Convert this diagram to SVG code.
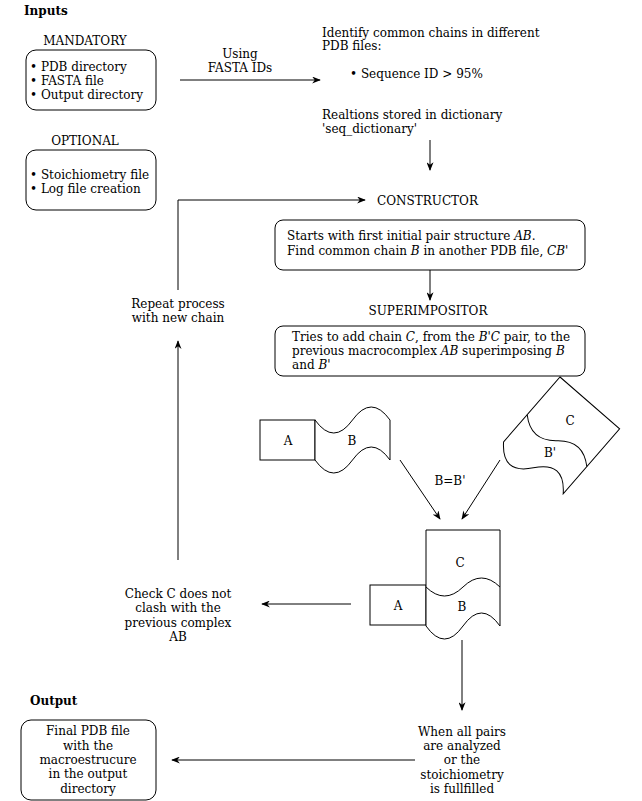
<svg xmlns="http://www.w3.org/2000/svg" width="642" height="801" viewBox="0 0 642 801">
<defs>
<style>
text{font-family:'DejaVu Serif',serif;font-size:12px;fill:#000}
.b{font-weight:bold}
.m{text-anchor:middle}
.box{fill:#fff;stroke:#000;stroke-width:1}
.ln{fill:none;stroke:#000;stroke-width:1}
.sh{fill:#fff;stroke:#000;stroke-width:1}
</style>
<marker id="ar" viewBox="0 0 10 8" refX="9" refY="4" markerWidth="9" markerHeight="7" markerUnits="userSpaceOnUse" orient="auto">
<path d="M0,0 L10,4 L0,8 L3,4 z" fill="#000"/>
</marker>
</defs>
<rect width="642" height="801" fill="#fff"/>

<g id="connectors">
<path class="ln" d="M180,80 L320,80" marker-end="url(#ar)"/>
<path class="ln" d="M430,140 L430,170" marker-end="url(#ar)"/>
<path class="ln" d="M178,290 L178,200 L365,200" marker-end="url(#ar)"/>
<path class="ln" d="M430,270 L430,300" marker-end="url(#ar)"/>
<path class="ln" d="M178,560 L178,341" marker-end="url(#ar)"/>
<path class="ln" d="M400,460 L440,519" marker-end="url(#ar)"/>
<path class="ln" d="M500,460 L462,519" marker-end="url(#ar)"/>
<path class="ln" d="M351,604 L262,604" marker-end="url(#ar)"/>
<path class="ln" d="M462,640 L462,710" marker-end="url(#ar)"/>
<path class="ln" d="M415,760 L172,760" marker-end="url(#ar)"/>
</g>

<g id="inputs-title"><text class="b" x="24" y="15">Inputs</text></g>

<g id="mandatory">
<text class="m" x="85" y="45">MANDATORY</text>
<rect class="box" x="26" y="50" width="130" height="60" rx="10"/>
<text x="30" y="71">• PDB directory</text>
<text x="30" y="85">• FASTA file</text>
<text x="30" y="99">• Output directory</text>
</g>

<g id="optional">
<text class="m" x="85" y="145">OPTIONAL</text>
<rect class="box" x="26" y="150" width="130" height="60" rx="10"/>
<text x="30" y="179">• Stoichiometry file</text>
<text x="30" y="193">• Log file creation</text>
</g>

<g id="using-label">
<text class="m" x="240" y="58">Using</text>
<text class="m" x="240" y="72">FASTA IDs</text>
</g>

<g id="identify">
<text x="322" y="37">Identify common chains in different</text>
<text x="322" y="50">PDB files:</text>
<text x="350" y="78">• Sequence ID &gt; 95%</text>
<text x="322" y="119">Realtions stored in dictionary</text>
<text x="322" y="133">'seq_dictionary'</text>
</g>

<g id="constructor">
<text x="377" y="205">CONSTRUCTOR</text>
<rect class="box" x="275" y="220" width="310" height="50" rx="8"/>
<text x="287" y="240">Starts with first initial pair structure <tspan font-style="italic">AB</tspan>.</text>
<text x="287" y="255">Find common chain <tspan font-style="italic">B</tspan> in another PDB file, <tspan font-style="italic">CB'</tspan></text>
</g>

<g id="superimpositor">
<text class="m" x="428" y="315">SUPERIMPOSITOR</text>
<rect class="box" x="275" y="326" width="310" height="50" rx="8"/>
<text x="292" y="341">Tries to add chain <tspan font-style="italic">C</tspan>, from the <tspan font-style="italic">B'C</tspan> pair, to the</text>
<text x="292" y="355">previous macrocomplex <tspan font-style="italic">AB</tspan> superimposing <tspan font-style="italic">B</tspan></text>
<text x="292" y="369">and <tspan font-style="italic">B'</tspan></text>
</g>

<g id="repeat">
<text class="m" x="178" y="308">Repeat process</text>
<text class="m" x="178" y="322">with new chain</text>
</g>

<g id="pair-AB">
<rect class="sh" x="260" y="420" width="55" height="40"/>
<path class="sh" d="M315,420 Q333.75,446 352.5,420 T390,420 L390,460 Q371.25,434 352.5,460 T315,460 Z"/>
<text class="m" x="288" y="445">A</text>
<text class="m" x="352" y="445">B</text>
</g>

<g id="pair-CB">
<g transform="translate(560,377) rotate(41)">
<path class="sh" d="M0,0 L79,0 L79,86 Q59.25,60 39.5,86 T0,86 Z"/>
<path class="ln" d="M0,50 Q19.75,68 39.5,50 T79,50"/>
</g>
<text class="m" x="570" y="425">C</text>
<text class="m" x="550" y="457">B'</text>
</g>

<g id="equal-label"><text class="m" x="450" y="485">B=B'</text></g>

<g id="complex-ABC">
<rect class="sh" x="370" y="585" width="56" height="40"/>
<path class="sh" d="M426,530 L500,530 L500,626 Q481.5,600 463,626 T426,626 Z"/>
<path class="ln" d="M426,587 Q444.5,605 463,587 T500,587"/>
<text class="m" x="460" y="567">C</text>
<text class="m" x="398" y="610">A</text>
<text class="m" x="462" y="611">B</text>
</g>

<g id="check">
<text class="m" x="178" y="598">Check C does not</text>
<text class="m" x="178" y="612">clash with the</text>
<text class="m" x="178" y="627">previous complex</text>
<text class="m" x="178" y="641">AB</text>
</g>

<g id="when">
<text class="m" x="462" y="736">When all pairs</text>
<text class="m" x="462" y="750">are analyzed</text>
<text class="m" x="462" y="764">or the</text>
<text class="m" x="462" y="779">stoichiometry</text>
<text class="m" x="462" y="793">is fullfilled</text>
</g>

<g id="output">
<text class="b" x="30" y="705">Output</text>
<rect class="box" x="21" y="720" width="135" height="80" rx="10"/>
<text class="m" x="88" y="735">Final PDB file</text>
<text class="m" x="88" y="750">with the</text>
<text class="m" x="88" y="764">macroestrucure</text>
<text class="m" x="88" y="778">in the output</text>
<text class="m" x="88" y="793">directory</text>
</g>
</svg>
